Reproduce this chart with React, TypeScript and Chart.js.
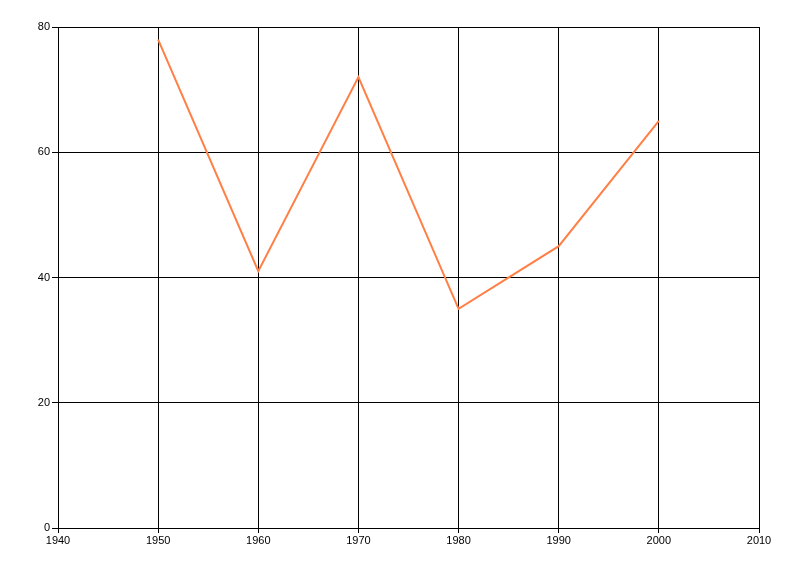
import React, { useEffect, useRef } from "react";
import { Chart, registerables } from "chart.js";

Chart.register(...registerables);

const years = [1950, 1960, 1970, 1980, 1990, 2000];
const values = [78, 41, 72, 35, 45, 65];
const xMin = 1940;
const xMax = 2010;
const yMin = 0;
const yMax = 80;

export default function App() {
  const ref = useRef<HTMLCanvasElement>(null);
  useEffect(() => {
    document.body.style.margin = "0";
    const ctx = ref.current!;
    const font = { family: "'Liberation Sans', 'DejaVu Sans', sans-serif", size: 11 };
    const chart = new Chart(ctx, {
      type: "line",
      data: {
        datasets: [
          {
            data: years.map((y, i) => ({ x: y, y: values[i] })),
            borderColor: "#FF7F45",
            borderWidth: 2,
            pointRadius: 0,
            tension: 0,
            fill: false,
          },
        ],
      },
      options: {
        animation: false,
        responsive: false,
        maintainAspectRatio: false,
        layout: { padding: { left: 0, right: 41, top: 27, bottom: 0 } },
        plugins: { legend: { display: false }, tooltip: { enabled: false } },
        scales: {
          x: {
            type: "linear",
            min: xMin,
            max: xMax,
            ticks: {
              stepSize: 10,
              color: "#000",
              font,
              padding: 1,
              maxRotation: 0,
              callback: (v: any) => String(v),
            },
            grid: { color: "#000", lineWidth: 1, tickLength: 5, drawTicks: true },
            border: { color: "#000", width: 1 },
            afterFit: (s: any) => {
              s.height = 48;
            },
          },
          y: {
            min: yMin,
            max: yMax,
            ticks: { stepSize: 20, color: "#000", font, padding: 2 },
            grid: { color: "#000", lineWidth: 1, tickLength: 6, drawTicks: true },
            border: { color: "#000", width: 1 },
            afterFit: (s: any) => {
              s.width = 58;
            },
          },
        },
      },
    });
    return () => chart.destroy();
  }, []);
  return (
    <div style={{ position: "absolute", left: 0, top: 0, width: 800, height: 576, background: "#fff" }}>
      <canvas ref={ref} width={800} height={576} style={{ width: 800, height: 576 }} />
    </div>
  );
}
